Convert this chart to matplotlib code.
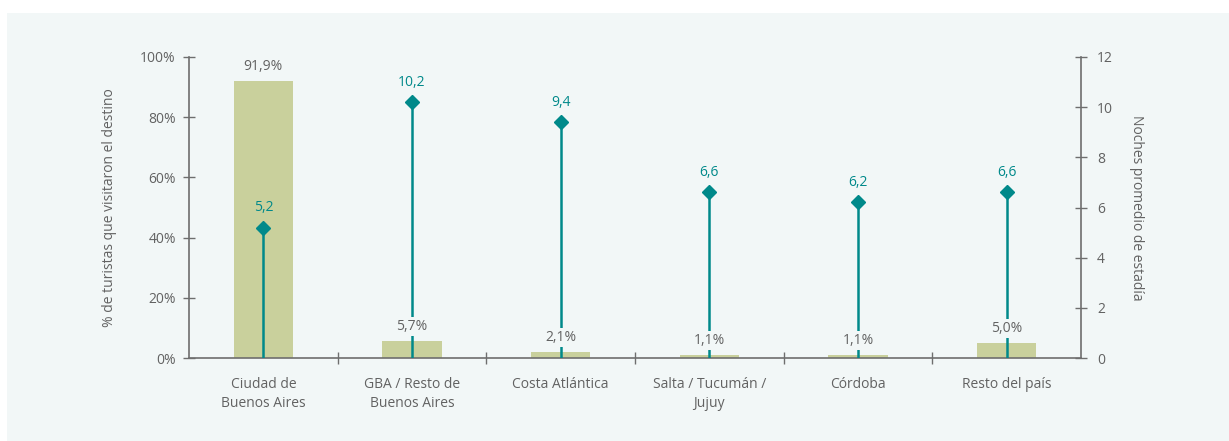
import matplotlib
matplotlib.use("Agg")
import matplotlib.pyplot as plt
from matplotlib.patches import Rectangle

categories = ["Ciudad de\nBuenos Aires", "GBA / Resto de\nBuenos Aires", "Costa Atlántica",
              "Salta / Tucumán /\nJujuy", "Córdoba", "Resto del país"]
pct_visitors = [91.9, 5.7, 2.1, 1.1, 1.1, 5.0]
avg_nights = [5.2, 10.2, 9.4, 6.6, 6.2, 6.6]
pct_labels = ["91,9%", "5,7%", "2,1%", "1,1%", "1,1%", "5,0%"]
night_labels = ["5,2", "10,2", "9,4", "6,6", "6,2", "6,6"]

BG = "#f2f7f7"
BAR = "#c9d09c"
TEAL = "#00898a"
TXT = "#626262"
AXC = "#6e6e6e"

plt.rcParams['font.family'] = ['Open Sans', 'DejaVu Sans']

fig = plt.figure(figsize=(12.29, 4.41), dpi=100, facecolor="white")
fig.patches.append(Rectangle((7/1229, 0), 1 - 7/1229, 1 - 13/441, transform=fig.transFigure,
                             facecolor=BG, edgecolor="none", zorder=-10))

ax = fig.add_axes([189/1229, 83/441, (1081-189)/1229, (358-57)/441])
ax.set_facecolor("none")
x = list(range(len(categories)))
ax.bar(x, pct_visitors, width=0.40, color=BAR, zorder=1)
ax.set_xlim(-0.5, len(categories) - 0.5)
ax.set_ylim(0, 100)
ax.set_yticks([0, 20, 40, 60, 80, 100])
ax.set_yticklabels(["0%", "20%", "40%", "60%", "80%", "100%"])
ax.set_xticks(x)
ax.set_xticklabels(categories, fontsize=10, color=TXT, linespacing=1.35)
ax.set_xticks([i + 0.5 for i in range(len(categories) - 1)], minor=True)
ax.tick_params(axis='x', which='major', length=0, pad=14)
ax.tick_params(axis='x', which='minor', length=9, direction='inout', color=AXC, width=1)
ax.tick_params(axis='y', length=9, direction='inout', color=AXC, width=1, labelsize=10,
               labelcolor=TXT, pad=5)
for s in ["top", "right"]:
    ax.spines[s].set_visible(False)
for s in ["left", "bottom"]:
    ax.spines[s].set_color(AXC)
    ax.spines[s].set_linewidth(1.2)
ax.set_ylabel("% de turistas que visitaron el destino", fontsize=10, color=TXT, labelpad=17)

ax2 = ax.twinx()
ax2.set_ylim(0, 12)
ax2.set_yticks([0, 2, 4, 6, 8, 10, 12])
ax2.tick_params(axis='y', length=9, direction='inout', color=AXC, width=1, labelsize=10,
                labelcolor=TXT, pad=7)
for s in ["top", "left", "bottom"]:
    ax2.spines[s].set_visible(False)
ax2.spines["right"].set_color(AXC)
ax2.spines["right"].set_linewidth(1.2)
ax2.set_ylabel("Noches promedio de estadía", fontsize=10, color=TXT, rotation=270, labelpad=22)

ax2.vlines(x, 0, avg_nights, color=TEAL, linewidth=1.8, zorder=2)
ax2.plot(x, avg_nights, linestyle="none", marker="D", markersize=7, color=TEAL, zorder=3)
for xi, v, lab in zip(x, avg_nights, night_labels):
    ax2.annotate(lab, (xi, v), xytext=(0, 9), textcoords="offset points", ha="center",
                 va="bottom", fontsize=10, color=TEAL, zorder=4)
for xi, v, lab in zip(x, pct_visitors, pct_labels):
    ax2.annotate(lab, (xi, v), xycoords=ax.transData, xytext=(0, 5), textcoords="offset points",
                 ha="center", va="bottom", fontsize=10, color=TXT, zorder=5,
                 bbox=dict(boxstyle="square,pad=0.15", facecolor=BG, edgecolor="none"))

fig.savefig("out.png", dpi=100, facecolor="white")
